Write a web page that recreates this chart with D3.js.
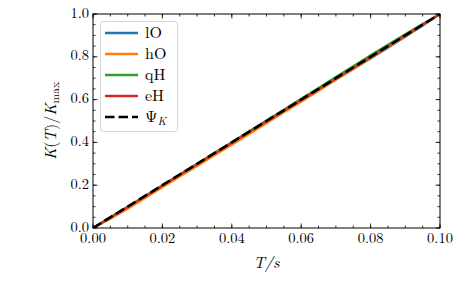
<!DOCTYPE html>
<html><head><meta charset="utf-8">
<script src="https://d3js.org/d3.v7.min.js"></script>
<style>body{margin:0;background:#fff}svg{display:block}</style>
</head><body>
<script>
const T = [0, 0.005, 0.01, 0.015, 0.02, 0.025, 0.03, 0.035, 0.04, 0.045, 0.05, 0.055, 0.06, 0.065, 0.07, 0.075, 0.08, 0.085, 0.09, 0.095, 0.1];
const lO = [0, 0.046, 0.095, 0.146, 0.196, 0.246, 0.296, 0.346, 0.396, 0.446, 0.496, 0.546, 0.595, 0.645, 0.694, 0.743, 0.792, 0.842, 0.893, 0.946, 1.0];
const hO = [0, 0.043, 0.090, 0.140, 0.190, 0.240, 0.290, 0.340, 0.389, 0.439, 0.489, 0.540, 0.590, 0.641, 0.692, 0.743, 0.794, 0.845, 0.896, 0.948, 1.0];
const qH = [0, 0.050, 0.100, 0.150, 0.200, 0.250, 0.300, 0.351, 0.401, 0.452, 0.503, 0.553, 0.604, 0.655, 0.706, 0.756, 0.807, 0.857, 0.906, 0.954, 1.0];
const eH = [0, 0.049, 0.098, 0.148, 0.198, 0.248, 0.298, 0.348, 0.398, 0.448, 0.498, 0.548, 0.598, 0.648, 0.698, 0.748, 0.798, 0.849, 0.899, 0.950, 1.0];
const psiK = [0, 0.05, 0.1, 0.15, 0.2, 0.25, 0.3, 0.35, 0.4, 0.45, 0.5, 0.55, 0.6, 0.65, 0.7, 0.75, 0.8, 0.85, 0.9, 0.95, 1.0];
const xTicks = [0, 0.02, 0.04, 0.06, 0.08, 0.1];
const yTicks = [0, 0.2, 0.4, 0.6, 0.8, 1.0];
const xTickLabels = ["0.00", "0.02", "0.04", "0.06", "0.08", "0.10"];
const yTickLabels = ["0.0", "0.2", "0.4", "0.6", "0.8", "1.0"];

const FONT = "'Latin Modern Roman'";
const W = 463, H = 286;
const m = {l: 93, r: 23, t: 14, b: 58};
const svg = d3.select("body").append("svg").attr("width", W).attr("height", H);
const txt = (sel) => sel.append("text").style("font-family", FONT);
const x = d3.scaleLinear().domain([0, 0.1]).range([m.l, W - m.r]);
const y = d3.scaleLinear().domain([0, 1]).range([H - m.b, m.t]);

const series = [
  {name: "lO", vals: lO, color: "#1f77b4"},
  {name: "hO", vals: hO, color: "#ff7f0e"},
  {name: "qH", vals: qH, color: "#2ca02c"},
  {name: "eH", vals: eH, color: "#d62728"},
];
svg.append("clipPath").attr("id", "c").append("rect")
  .attr("x", m.l).attr("y", m.t).attr("width", W - m.r - m.l).attr("height", H - m.b - m.t);
const g = svg.append("g").attr("clip-path", "url(#c)");
const line = vals => d3.line().x((d, i) => x(T[i])).y(d => y(d))(vals);
series.forEach(s => {
  g.append("path").attr("d", line(s.vals)).attr("fill", "none")
    .attr("stroke", s.color).attr("stroke-width", 2.2);
});
g.append("path").attr("d", line(psiK)).attr("fill", "none").attr("stroke", "#000")
  .attr("stroke-width", 2.6).attr("stroke-dasharray", "9.5,4");

// axes
const minorX = d3.range(0, 0.1001, 0.005);
const minorY = d3.range(0, 1.0001, 0.05);
const ax = svg.append("g");
ax.append("rect").attr("x", m.l).attr("y", m.t).attr("width", W - m.r - m.l).attr("height", H - m.b - m.t)
  .attr("fill", "none").attr("stroke", "#000").attr("stroke-width", 1);
const tk = (x1, y1, x2, y2, w) => ax.append("line").attr("x1", x1).attr("y1", y1).attr("x2", x2).attr("y2", y2)
  .attr("stroke", "#000").attr("stroke-width", w || 0.8);
minorX.forEach(v => { tk(x(v), y(0), x(v), y(0) - 2.5); tk(x(v), y(1), x(v), y(1) + 2.5); });
minorY.forEach(v => { tk(x(0), y(v), x(0) + 2.5, y(v)); tk(x(0.1), y(v), x(0.1) - 2.5, y(v)); });
xTicks.forEach(v => { tk(x(v), y(0), x(v), y(0) - 4.5); tk(x(v), y(1), x(v), y(1) + 4.5); });
yTicks.forEach(v => { tk(x(0), y(v), x(0) + 4.5, y(v)); tk(x(0.1), y(v), x(0.1) - 4.5, y(v)); });
xTicks.forEach((v, i) => txt(ax).attr("x", x(v)).attr("y", y(0) + 15).attr("text-anchor", "middle")
  .attr("font-size", 14.5).text(xTickLabels[i]));
yTicks.forEach((v, i) => txt(ax).attr("x", x(0) - 4).attr("y", y(v) + 3.5).attr("text-anchor", "end")
  .attr("font-size", 14.5).text(yTickLabels[i]));

// axis labels
const xl = txt(svg).attr("x", (m.l + W - m.r) / 2).attr("y", 268).attr("text-anchor", "middle").attr("font-size", 16);
xl.append("tspan").attr("font-style", "italic").text("T");
xl.append("tspan").attr("font-style", "italic").text("/");
xl.append("tspan").attr("font-style", "italic").text("s");
const yl = txt(svg).attr("transform", `translate(56,${(m.t + H - m.b) / 2}) rotate(-90)`)
  .attr("text-anchor", "middle").attr("font-size", 16);
yl.append("tspan").attr("font-style", "italic").text("K");
yl.append("tspan").text("(");
yl.append("tspan").attr("font-style", "italic").text("T");
yl.append("tspan").text(")/");
yl.append("tspan").attr("font-style", "italic").text("K");
yl.append("tspan").attr("font-size", 11.5).attr("dy", 3).text("max");

// legend
const lg = svg.append("g");
lg.append("rect").attr("x", 100.5).attr("y", 21.5).attr("width", 77).attr("height", 110).attr("rx", 3)
  .attr("fill", "#fff").attr("fill-opacity", 0.8).attr("stroke", "#ccc").attr("stroke-width", 0.8);
const entries = series.map(s => ({name: s.name, color: s.color, dash: null}))
  .concat([{name: "Ψ", color: "#000", dash: "9.5,4"}]);
entries.forEach((e, i) => {
  const yy = 33 + i * 21;
  lg.append("line").attr("x1", 105).attr("x2", 138).attr("y1", yy).attr("y2", yy)
    .attr("stroke", e.color).attr("stroke-width", e.dash ? 2.6 : 2.3).attr("stroke-dasharray", e.dash);
  const t = txt(lg).attr("x", 145).attr("y", yy + 5).attr("font-size", 16);
  if (e.dash) {
    t.append("tspan").text("Ψ");
    t.append("tspan").attr("font-style", "italic").attr("font-size", 11.5).attr("dy", 3).text("K");
  } else t.text(e.name);
});
</script>
</body></html>
